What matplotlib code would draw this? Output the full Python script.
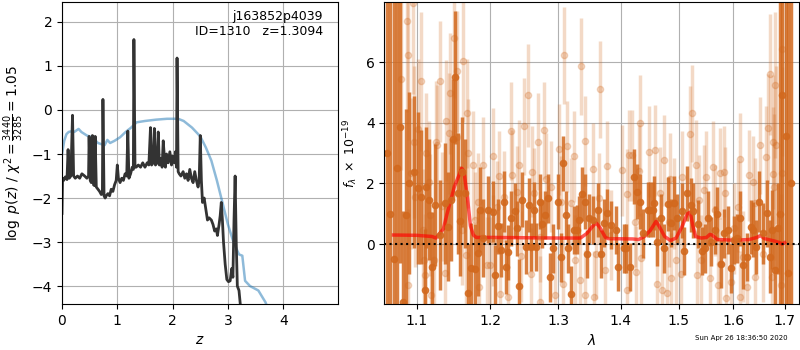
import numpy as np
import matplotlib
matplotlib.use('Agg')
import matplotlib.pyplot as plt
from matplotlib.ticker import NullLocator

# p(z) curve (black)
pz_z = [0.00, 0.01, 0.03, 0.06, 0.09, 0.11, 0.13, 0.16, 0.19, 0.21, 0.24, 0.28, 0.32, 0.36,
        0.41, 0.45, 0.48, 0.49, 0.51, 0.53, 0.55, 0.57, 0.59, 0.60, 0.62, 0.65, 0.68, 0.71,
        0.73, 0.74, 0.76, 0.78, 0.80, 0.83, 0.86, 0.89, 0.92, 0.95, 0.98, 1.00, 1.02, 1.05,
        1.08, 1.11, 1.14, 1.17, 1.19, 1.21, 1.24, 1.27, 1.29, 1.30, 1.32, 1.34, 1.38, 1.42,
        1.46, 1.50, 1.54, 1.57, 1.60, 1.62, 1.65, 1.67, 1.69, 1.72, 1.74, 1.76, 1.79, 1.81,
        1.83, 1.85, 1.87, 1.89, 1.92, 1.95, 1.98, 2.00, 2.03, 2.05, 2.07, 2.08, 2.10, 2.12,
        2.15, 2.19, 2.22, 2.25, 2.28, 2.31, 2.34, 2.37, 2.40, 2.43, 2.46, 2.48, 2.50, 2.52,
        2.54, 2.57, 2.60, 2.63, 2.66, 2.70, 2.73, 2.76, 2.79, 2.81, 2.84, 2.86, 2.88, 2.90,
        2.92, 2.95, 2.98, 3.01, 3.04, 3.07, 3.09, 3.11, 3.13, 3.15, 3.17, 3.20, 3.23, 3.26]
pz_logp = [-2.35, -1.55, -1.60, -1.52, -1.58, -0.90, -1.55, -1.50, -0.12, -1.50, -1.55, -1.50,
           -1.55, -1.45, -1.50, -1.55, -1.50, -0.60, -1.60, -1.65, -0.58, -1.70, -1.72, -0.60,
           -1.75, -1.80, -1.85, -1.92, -1.90, 0.24, -1.95, -2.00, -1.95, -1.90, -1.95, -1.80,
           -1.85, -1.70, -1.60, -1.25, -1.55, -1.65, -1.55, -1.60, -1.45, -1.50, -0.48, -1.55,
           -1.45, -1.30, -1.35, 1.60, -1.30, -1.30, -1.25, -1.30, -1.20, -1.30, -1.20, -1.25,
           -0.40, -1.25, -1.20, -0.42, -1.25, -1.20, -0.50, -1.25, -1.10, -1.30, -0.70, -1.05,
           -1.30, -1.00, -1.20, -0.95, -1.25, -1.05, -1.20, -0.95, -1.30, 1.18, -1.40, -1.45,
           -1.50, -1.40, -1.55, -1.45, -1.60, -1.35, -1.55, -1.65, -1.40, -1.60, -1.75, -1.60,
           -0.58, -1.60, -2.10, -2.00, -2.25, -2.50, -2.45, -2.50, -2.60, -2.75, -2.70, -2.85,
           -2.60, -2.40, -2.10, -2.50, -3.00, -3.50, -3.85, -3.90, -3.88, -3.60, -3.80, -2.50,
           -1.50, -3.00, -4.00, -4.10, -4.50, -5.00]

# chi2 curve (blue)
chi_z = [0.00, 0.04, 0.08, 0.12, 0.18, 0.22, 0.30, 0.35, 0.45, 0.55, 0.65, 0.72, 0.77, 0.82,
         0.87, 0.95, 1.05, 1.15, 1.25, 1.35, 1.50, 1.70, 1.90, 2.10, 2.20, 2.35, 2.50, 2.60,
         2.70, 2.80, 2.90, 3.00, 3.10, 3.20, 3.26, 3.31, 3.40, 3.55, 3.68, 3.75]
chi_logp = [-1.00, -0.70, -0.55, -0.50, -0.48, -0.50, -0.43, -0.50, -0.58, -0.62, -0.75, -0.78,
            -0.80, -0.68, -0.75, -0.70, -0.62, -0.50, -0.40, -0.28, -0.25, -0.22, -0.20, -0.20,
            -0.25, -0.40, -0.60, -0.85, -1.15, -1.60, -2.10, -2.60, -3.00, -3.28, -3.31, -3.88,
            -4.00, -4.10, -4.37, -4.60]

# spectrum 1 (dark points)
w1 = [1.062, 1.066, 1.071, 1.075, 1.078, 1.082, 1.086, 1.090, 1.096, 1.102, 1.106, 1.110,
      1.112, 1.116, 1.120, 1.124, 1.130, 1.137, 1.141, 1.145, 1.148, 1.151, 1.155, 1.158,
      1.161, 1.164, 1.168, 1.173, 1.178, 1.182, 1.185, 1.190, 1.197, 1.203, 1.206, 1.211,
      1.215, 1.219, 1.222, 1.226, 1.230, 1.235, 1.239, 1.242, 1.246, 1.251, 1.256, 1.259,
      1.263, 1.267, 1.272, 1.275, 1.280, 1.284, 1.288, 1.293, 1.300, 1.304, 1.308, 1.313,
      1.316, 1.320, 1.325, 1.329, 1.333, 1.338, 1.342, 1.346, 1.349, 1.355, 1.363, 1.368,
      1.373, 1.378, 1.384, 1.393, 1.396, 1.405, 1.409, 1.415, 1.423, 1.428, 1.433, 1.438,
      1.446, 1.450, 1.454, 1.457, 1.462, 1.468, 1.474, 1.480, 1.486, 1.492, 1.496, 1.505,
      1.509, 1.515, 1.521, 1.526, 1.534, 1.542, 1.547, 1.553, 1.558, 1.565, 1.570, 1.577,
      1.583, 1.589, 1.595, 1.601, 1.607, 1.613, 1.619, 1.626, 1.633, 1.638, 1.644, 1.650,
      1.657, 1.664, 1.670, 1.675, 1.680, 1.686, 1.691, 1.695, 1.702, 1.706, 1.712]
f1 = [3.0, 1.0, -0.5, 2.5, 3.87, -1.9, 0.96, 2.0, 2.38, 1.84, 1.56, -1.5, 1.87, 1.47, -0.75,
      1.29, 0.3, 1.34, 0.57, 1.45, 3.45, 5.5, 1.67, 0.76, 2.38, 1.67, -1.6, -0.8, -0.83, -0.3,
      1.14, 0.2, 1.14, 1.07, -1.02, 0.59, -0.2, 1.4, -0.75, -0.27, 0.85, 1.1, 0.52, -1.38, 1.47,
      -0.09, 1.29, -0.09, 1.14, -0.09, 1.4, 0.66, 0.96, 1.51, -1.1, -0.14, 1.4, -0.44, 2.66,
      0.96, -0.14, -1.63, 0.46, 0.48, 0.79, 1.65, 1.4, -0.33, 0.85, 0.79, 1.12, -0.33, 0.70,
      1.01, 0.63, 0.46, -0.75, -0.14, -0.14, -0.75, 2.22, 1.73, 1.4, 0.35, 1.14, 1.14, 1.14,
      1.36, 0.08, 0.85, -0.14, 1.32, 0.70, 1.36, 0.85, 1.10, -0.22, 1.67, 1.29, 1.10, 0.66,
      -0.22, -0.14, 0.85, 0.08, 0.46, 0.99, -0.66, 0.35, 0.46, -0.8, 0.13, 0.19, 0.85, -0.69,
      -0.42, 0.57, 0.48, -0.09, 1.4, 0.35, 1.01, -0.42, 0.48, -0.84, 0.52, 1.0, 4.91, 3.56,
      -0.95, 2.0]
e1 = [12, 12, 12, 6, 4.5, 3.0, 3.5, 3.0, 2.5, 2.5, 2.2, 2.0, 2.0, 2.0, 1.8, 2.0, 1.8, 2.0,
      1.8, 2.0, 2.0, 2.2, 2.0, 1.8, 1.8, 1.8, 1.6, 1.5, 1.5, 1.4, 1.4, 1.3, 1.1, 1.0, 1.0, 0.9,
      0.9, 1.0, 0.9, 0.9, 0.9, 0.9, 0.9, 0.9, 0.9, 0.9, 0.9, 0.8, 0.9, 0.8, 0.9, 0.8, 0.8, 0.8,
      0.8, 0.8, 0.9, 0.8, 0.9, 0.8, 0.8, 0.9, 0.8, 0.8, 0.8, 0.9, 0.9, 0.8, 0.8, 0.8, 0.9, 0.8,
      0.8, 0.8, 0.8, 0.8, 0.8, 0.8, 0.8, 0.8, 0.9, 0.9, 0.9, 0.8, 0.9, 0.9, 0.9, 0.9, 0.8, 0.8,
      0.8, 0.9, 0.8, 0.9, 0.8, 0.9, 0.8, 0.9, 0.9, 0.9, 0.8, 0.8, 0.8, 0.9, 0.8, 0.8, 0.9, 0.8,
      0.8, 0.8, 0.8, 0.8, 0.8, 0.9, 0.8, 0.8, 0.9, 0.9, 0.9, 1.0, 1.0, 1.1, 1.2, 1.3, 1.4, 1.5,
      8, 10, 10, 10, 12]

# spectrum 2 (light points)
w2 = [1.080, 1.087, 1.088, 1.089, 1.093, 1.095, 1.096, 1.097, 1.101, 1.106, 1.108, 1.109,
      1.110, 1.112, 1.116, 1.117, 1.119, 1.123, 1.125, 1.127, 1.130, 1.133, 1.137, 1.138,
      1.142, 1.144, 1.149, 1.153, 1.154, 1.160, 1.162, 1.166, 1.167, 1.169, 1.175, 1.179,
      1.183, 1.184, 1.190, 1.195, 1.200, 1.203, 1.204, 1.210, 1.213, 1.214, 1.219, 1.225,
      1.230, 1.231, 1.238, 1.242, 1.244, 1.248, 1.255, 1.259, 1.261, 1.264, 1.270, 1.272,
      1.273, 1.278, 1.282, 1.290, 1.295, 1.302, 1.305, 1.307, 1.309, 1.314, 1.320, 1.325,
      1.327, 1.334, 1.336, 1.342, 1.343, 1.355, 1.356, 1.360, 1.365, 1.367, 1.374, 1.377,
      1.384, 1.402, 1.410, 1.411, 1.414, 1.419, 1.424, 1.425, 1.430, 1.433, 1.434, 1.447,
      1.458, 1.462, 1.466, 1.471, 1.473, 1.479, 1.483, 1.485, 1.486, 1.492, 1.495, 1.503,
      1.506, 1.519, 1.523, 1.531, 1.533, 1.537, 1.540, 1.546, 1.549, 1.556, 1.561, 1.565,
      1.572, 1.574, 1.575, 1.582, 1.585, 1.586, 1.595, 1.601, 1.609, 1.612, 1.613, 1.619,
      1.626, 1.629, 1.637, 1.641, 1.642, 1.652, 1.657, 1.662, 1.666, 1.670, 1.675, 1.676,
      1.677, 1.679, 1.680, 1.683, 1.692, 1.694, 1.695]
f2 = [5.43, 7.36, 6.23, -1.35, 2.33, 7.95, 3.37, 1.56, 3.81, 5.37, 0.48, -0.53, -1.02, 2.99,
      2.05, 0.96, -1.68, -0.53, 3.37, 3.26, 5.37, 1.25, -0.95, 4.07, 3.65, 4.97, 6.81, 5.7,
      3.54, 0.46, 6.03, -0.36, 4.31, 2.99, 2.6, 0.79, 1.4, -1.4, 2.6, -0.7, -0.69, 0.13, 2.9,
      1.23, 2.24, -1.65, 1.56, -1.74, 3.73, 2.27, 1.73, 2.6, -0.4, 3.89, 4.91, -0.97, 2.38,
      1.67, 3.37, 0.24, -1.9, 3.76, 2.16, 1.89, -1.68, 3.12, 1.4, -1.3, 6.23, 3.23, 1.34, 2.9,
      -0.53, -1.19, 5.87, 3.4, -1.68, 2.49, -1.74, -0.31, 1.51, 5.1, -0.86, 2.57, 0.3, 2.44,
      1.65, -1.52, 2.93, 2.93, 0.74, -0.91, 2.42, 3.98, -0.47, 3.04, 3.1, -1.3, 1.69, -1.52,
      2.77, -1.6, 0.74, 2.16, -1.13, 1.34, -0.53, -0.97, 2.22, 3.62, 4.31, 2.6, -1.02, 1.45,
      -0.53, 1.78, 2.22, -1.13, 2.55, 1.12, -1.35, 2.33, -0.64, 2.38, 1.7, -1.79, -1.24, 0.52,
      1.23, 2.82, -1.74, -0.42, -1.41, 2.27, 2.05, 1.34, -1.08, 3.26, -0.31, 2.86, 3.82, 5.6,
      -1.08, 3.37, 2.31, 1.89, 5.24, 3.26, -1.35, 2.33, 6.42]
e2 = [3.0, 3.0, 2.8, 2.5, 2.5, 3.0, 2.5, 2.3, 2.3, 2.3, 2.0, 2.0, 2.0, 2.0, 2.0, 2.0, 2.0, 1.8,
      2.0, 2.0, 2.0, 1.8, 1.8, 2.0, 2.0, 2.0, 2.0, 2.0, 2.0, 1.8, 2.0, 1.8, 1.8, 1.8, 1.8, 1.6,
      1.6, 1.6, 1.6, 1.6, 1.6, 1.5, 1.6, 1.5, 1.5, 1.5, 1.5, 1.5, 1.6, 1.5, 1.5, 1.5, 1.5, 1.6,
      1.7, 1.5, 1.5, 1.5, 1.6, 1.5, 1.5, 1.6, 1.5, 1.5, 1.5, 1.5, 1.5, 1.5, 1.6, 1.5, 1.5, 1.5,
      1.5, 1.5, 1.6, 1.5, 1.5, 1.5, 1.5, 1.5, 1.5, 1.6, 1.5, 1.5, 1.5, 1.5, 1.5, 1.5, 1.5, 1.5,
      1.5, 1.5, 1.5, 1.6, 1.5, 1.5, 1.5, 1.5, 1.5, 1.5, 1.5, 1.5, 1.5, 1.5, 1.5, 1.5, 1.5, 1.5,
      1.5, 1.6, 1.6, 1.5, 1.5, 1.5, 1.5, 1.5, 1.5, 1.5, 1.5, 1.5, 1.5, 1.5, 1.5, 1.5, 1.5, 1.5,
      1.5, 1.5, 1.5, 1.5, 1.5, 1.5, 1.5, 1.5, 1.5, 1.5, 1.5, 1.6, 1.6, 1.7, 1.8, 2.0, 2.0, 2.2,
      2.2, 2.4, 2.4, 2.6, 3.0, 3.5, 3.5]

# best-fit model (red)
mw = [1.070, 1.100, 1.120, 1.125, 1.135, 1.140, 1.150, 1.155, 1.160, 1.163, 1.168, 1.172,
      1.176, 1.180, 1.200, 1.300, 1.335, 1.345, 1.355, 1.360, 1.366, 1.375, 1.380, 1.420,
      1.430, 1.440, 1.450, 1.460, 1.465, 1.475, 1.485, 1.495, 1.505, 1.515, 1.520, 1.525,
      1.530, 1.540, 1.550, 1.556, 1.560, 1.570, 1.600, 1.630, 1.645, 1.652, 1.660, 1.680,
      1.690, 1.695, 1.700]
mf = [0.30, 0.29, 0.25, 0.20, 0.50, 1.00, 1.90, 2.20, 2.50, 2.40, 1.50, 0.60, 0.30, 0.22,
      0.22, 0.20, 0.20, 0.35, 0.60, 0.70, 0.55, 0.22, 0.18, 0.17, 0.15, 0.25, 0.45, 0.75,
      0.60, 0.25, 0.12, 0.20, 0.55, 1.00, 1.05, 0.60, 0.25, 0.20, 0.22, 0.32, 0.30, 0.15,
      0.13, 0.15, 0.22, 0.28, 0.18, 0.10, 0.05, 0.00, 0.05]

fig = plt.figure(figsize=(8, 3.5), dpi=100)
ax1 = fig.add_axes([0.0775, 0.131, 0.345, 0.863])
ax2 = fig.add_axes([0.4804, 0.131, 0.518, 0.863])

ax1.plot(chi_z, chi_logp, color='#1f77b4', alpha=0.5, lw=1.8)
ax1.plot(pz_z, pz_logp, color='#333333', lw=2)
ax1.set_xlim(0, 4.99)
ax1.set_ylim(-4.41, 2.45)
ax1.set_xticks([0, 1, 2, 3, 4])
ax1.set_xlabel('$z$')
ax1.set_ylabel(r'$\log\ p(z)$' + ' / ' + r'$\chi^2=\frac{3440}{3285}=1.05$')
ax1.grid()
ax1.text(0.945, 0.975, 'j163852p4039\nID=1310   z=1.3094', transform=ax1.transAxes,
         ha='right', va='top', fontsize=9)

col = '#d2691e'
ax2.errorbar(w2, f2, yerr=e2, marker='o', linestyle='none', color=col, alpha=0.25,
             markersize=4.5, elinewidth=2.5)
ax2.errorbar(w1, f1, yerr=e1, marker='o', linestyle='none', color=col, alpha=0.85,
             markersize=4.5, elinewidth=2.5)
ax2.plot(mw, mf, color='red', alpha=0.65, lw=2.5)
ax2.axhline(0, color='k', linestyle=':', lw=1.5)
ax2.set_xscale('log')
ax2.set_xlim(1.0584, 1.7286)
ax2.set_ylim(-1.98, 7.98)
ax2.set_xticks([1.1, 1.2, 1.3, 1.4, 1.5, 1.6, 1.7])
ax2.set_xticklabels(['1.1', '1.2', '1.3', '1.4', '1.5', '1.6', '1.7'])
ax2.xaxis.set_minor_locator(NullLocator())
ax2.set_yticks([0, 2, 4, 6])
ax2.set_xlabel(r'$\lambda$')
ax2.set_ylabel(r'$f_\lambda\ \times\ 10^{-19}$', fontsize=9)
ax2.grid()

fig.text(0.985, 0.025, 'Sun Apr 26 18:36:50 2020', ha='right', va='bottom', fontsize=5)

fig.savefig('out.png', dpi=100)
